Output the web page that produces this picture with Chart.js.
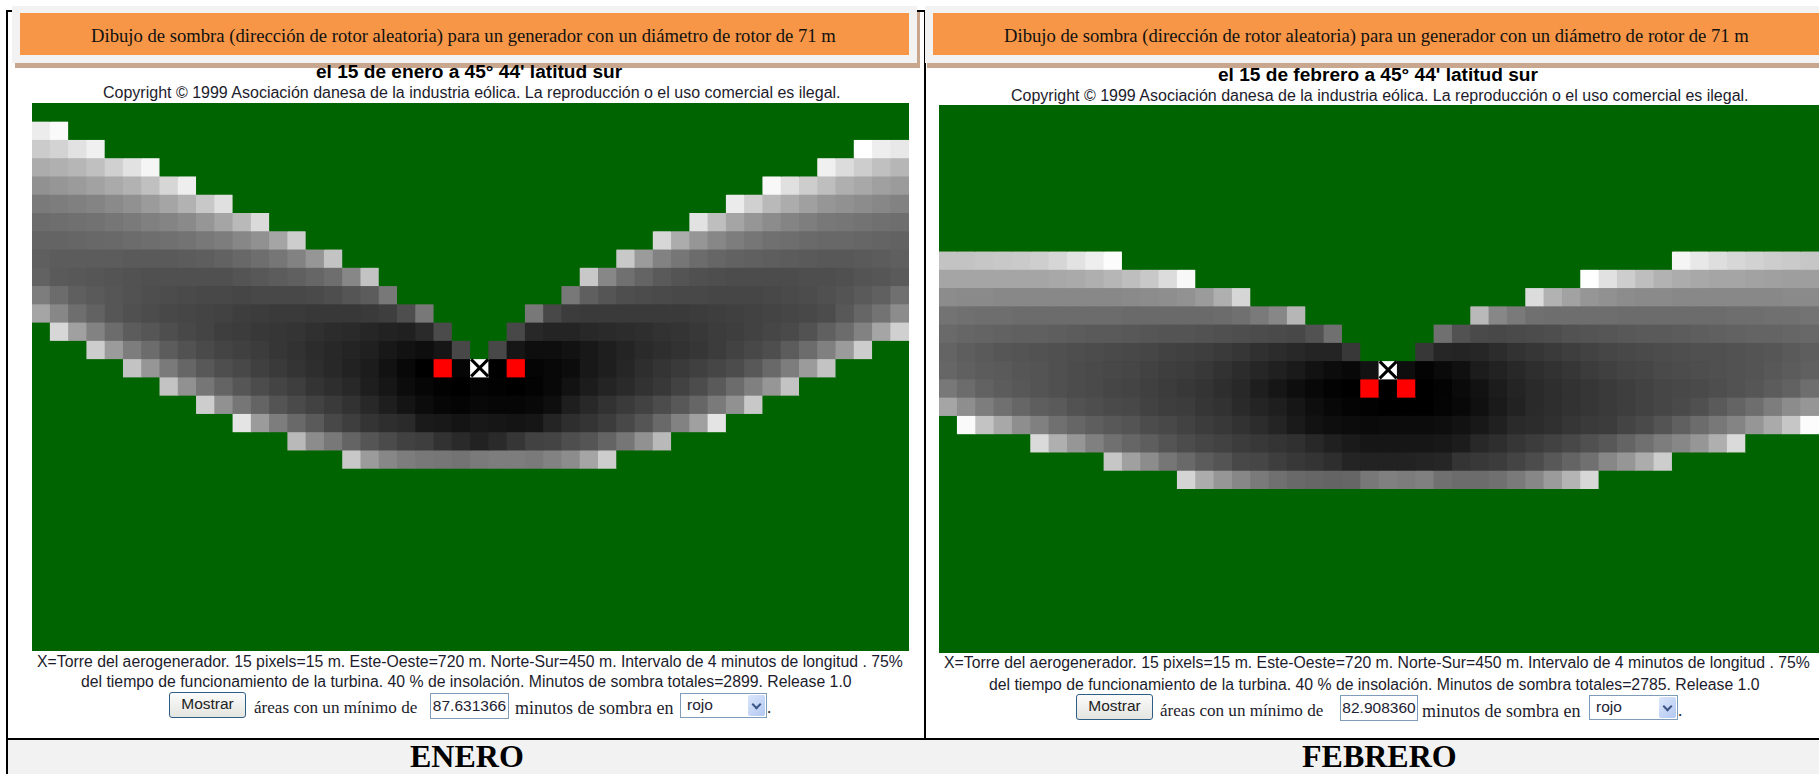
<!DOCTYPE html>
<html>
<head>
<meta charset="utf-8">
<script src="https://cdn.jsdelivr.net/npm/chart.js@4"></script>
<style>
  html, body { margin: 0; background: #fff; overflow: hidden; width: 1819px; height: 774px; }
  .box, .t, canvas { position: absolute; }
  .t { white-space: nowrap; transform: translateY(-50%); color: #1c1c2c; }
  .serif { font-family: "Liberation Serif", serif; }
  .sans { font-family: "Liberation Sans", sans-serif; }
  .title { font-size: 18.65px; color: #111; }
  .sub { font-size: 19.1px; font-weight: bold; color: #000; }
  .note { font-size: 15.8px; }
  .copy { font-size: 16px; }
  .line { font-size: 17.1px; }
  .line2 { font-size: 18px; }
  .month { font-size: 32px; font-weight: bold; color: #000; }
  .btn { border: 1px solid #2e5d86; border-radius: 3px; background: linear-gradient(#fbfbfb, #e4e4e0); font: 15.5px "Liberation Sans", sans-serif; color: #222; text-align: center; box-sizing: border-box; line-height: 21px; }
  .inp { border: 1px solid #7f9db9; background: #fff; font: 15.5px "Liberation Sans", sans-serif; color: #223; text-align: center; box-sizing: border-box; line-height: 24px; }
  .sel { border: 1px solid #7f9db9; background: #fff; font: 15.5px "Liberation Sans", sans-serif; color: #223; padding-left: 6px; box-sizing: border-box; line-height: 22px; }
  .arr { position: absolute; right: 1px; top: 1px; bottom: 1px; width: 17px; border-radius: 2px; background: linear-gradient(135deg, #dbe6fa, #b2c8f2); }
  .arr::after { content: ""; position: absolute; left: 5px; top: 6px; width: 5px; height: 5px; border-right: 2px solid #3c5587; border-bottom: 2px solid #3c5587; transform: rotate(45deg); }
</style>
</head>
<body>
<!-- table frame -->
<div class="box" style="left:6px;top:10px;width:2px;height:764px;background:#000"></div>
<div class="box" style="left:6px;top:10px;width:8px;height:2px;background:#000"></div>
<div class="box" style="left:924px;top:10px;width:2px;height:764px;background:#000"></div>
<div class="box" style="left:915px;top:10px;width:10px;height:2px;background:#000"></div>
<div class="box" style="left:8px;top:740px;width:1811px;height:34px;background:#f2f2f2"></div>
<div class="box" style="left:6px;top:738px;width:1813px;height:2px;background:#000"></div>

<!-- headers -->
<div class="box" style="left:15px;top:12px;width:905px;height:56px;background:#c9a78f"></div>
<div class="box" style="left:927px;top:63px;width:892px;height:5px;background:#c9a78f"></div>
<div class="box" style="left:12px;top:6px;width:905px;height:57px;background:#f2f2f2"></div>
<div class="box" style="left:925px;top:6px;width:894px;height:57px;background:#f2f2f2"></div>
<div class="box" style="left:20px;top:13px;width:889px;height:42px;background:#f79646"></div>
<div class="box" style="left:933px;top:13px;width:886px;height:42px;background:#f79646"></div>
<div class="t serif title" style="left:91px;top:36px">Dibujo de sombra (dirección de rotor aleatoria) para un generador con un diámetro de rotor de 71 m</div>
<div class="t serif title" style="left:1004px;top:36px">Dibujo de sombra (dirección de rotor aleatoria) para un generador con un diámetro de rotor de 71 m</div>

<div class="t sans sub" style="left:316px;top:72px">el 15 de enero a 45° 44' latitud sur</div>
<div class="t sans sub" style="left:1218px;top:75px">el 15 de febrero a 45° 44' latitud sur</div>
<div class="t sans copy" style="left:103px;top:93px">Copyright © 1999 Asociación danesa de la industria eólica. La reproducción o el uso comercial es ilegal.</div>
<div class="t sans copy" style="left:1011px;top:96px">Copyright © 1999 Asociación danesa de la industria eólica. La reproducción o el uso comercial es ilegal.</div>

<canvas id="enero" style="left:32px;top:103px" width="877" height="548"></canvas>
<canvas id="febrero" style="left:939px;top:105px" width="880" height="548"></canvas>

<!-- enero footer -->
<div class="t sans note" style="left:37px;top:662px">X=Torre del aerogenerador. 15 pixels=15 m. Este-Oeste=720 m. Norte-Sur=450 m. Intervalo de 4 minutos de longitud . 75%</div>
<div class="t sans note" style="left:81px;top:682px">del tiempo de funcionamiento de la turbina. 40 % de insolación. Minutos de sombra totales=2899. Release 1.0</div>
<div class="box btn" style="left:169px;top:692px;width:77px;height:26px">Mostrar</div>
<div class="t serif line" style="left:254px;top:708px">áreas con un mínimo de</div>
<div class="box inp" style="left:430px;top:693px;width:79px;height:26px">87.631366</div>
<div class="t serif line2" style="left:515px;top:708px">minutos de sombra en</div>
<div class="box sel" style="left:680px;top:693px;width:87px;height:25px">rojo<div class="arr"></div></div>
<div class="t serif line" style="left:767px;top:708px">.</div>

<!-- febrero footer -->
<div class="t sans note" style="left:944px;top:663px">X=Torre del aerogenerador. 15 pixels=15 m. Este-Oeste=720 m. Norte-Sur=450 m. Intervalo de 4 minutos de longitud . 75%</div>
<div class="t sans note" style="left:989px;top:685px">del tiempo de funcionamiento de la turbina. 40 % de insolación. Minutos de sombra totales=2785. Release 1.0</div>
<div class="box btn" style="left:1076px;top:694px;width:77px;height:26px">Mostrar</div>
<div class="t serif line" style="left:1160px;top:711px">áreas con un mínimo de</div>
<div class="box inp" style="left:1340px;top:695px;width:78px;height:26px">82.908360</div>
<div class="t serif line2" style="left:1422px;top:711px">minutos de sombra en</div>
<div class="box sel" style="left:1589px;top:695px;width:89px;height:25px">rojo<div class="arr"></div></div>
<div class="t serif line" style="left:1678px;top:711px">.</div>

<div class="t serif month" style="left:410px;top:756px">ENERO</div>
<div class="t serif month" style="left:1302px;top:756px">FEBRERO</div>

<script>
// gray level per cell, _ = no shadow, R = red area, T = tower. Rows top to bottom,
// cells missing at the end of a row have no shadow
const _ = null, R = -1, T = -2;

const columns = ["c0","c1","c2","c3","c4","c5","c6","c7","c8","c9","c10","c11","c12","c13","c14","c15","c16","c17","c18","c19","c20","c21","c22","c23","c24","c25","c26","c27","c28","c29","c30","c31","c32","c33","c34","c35","c36","c37","c38","c39","c40","c41","c42","c43","c44","c45","c46","c47"];

const eneroRows = [
  [],
  [236,250],
  [203,211,226,240,_,_,_,_,_,_,_,_,_,_,_,_,_,_,_,_,_,_,_,_,_,_,_,_,_,_,_,_,_,_,_,_,_,_,_,_,_,_,_,_,_,255,238,232],
  [172,176,182,192,208,226,245,_,_,_,_,_,_,_,_,_,_,_,_,_,_,_,_,_,_,_,_,_,_,_,_,_,_,_,_,_,_,_,_,_,_,_,_,240,220,205,192,182],
  [145,150,155,162,170,178,192,214,238,_,_,_,_,_,_,_,_,_,_,_,_,_,_,_,_,_,_,_,_,_,_,_,_,_,_,_,_,_,_,_,248,224,205,190,175,168,160,155],
  [122,125,128,132,138,145,155,165,178,200,224,_,_,_,_,_,_,_,_,_,_,_,_,_,_,_,_,_,_,_,_,_,_,_,_,_,_,_,235,208,185,172,160,150,145,140,135,130],
  [108,110,112,114,118,122,128,132,138,150,165,185,218,_,_,_,_,_,_,_,_,_,_,_,_,_,_,_,_,_,_,_,_,_,_,_,226,190,165,150,140,132,126,120,118,115,112,110],
  [100,100,102,104,105,108,110,112,115,120,125,135,145,165,205,_,_,_,_,_,_,_,_,_,_,_,_,_,_,_,_,_,_,_,215,172,150,135,125,118,112,110,106,104,104,102,100,98],
  [95,92,92,92,92,90,90,90,92,94,98,104,110,118,130,150,195,_,_,_,_,_,_,_,_,_,_,_,_,_,_,_,200,155,130,118,108,102,98,96,94,92,90,88,88,90,92,95],
  [98,90,88,86,84,82,80,80,80,80,80,84,88,92,96,102,110,135,195,_,_,_,_,_,_,_,_,_,_,_,200,135,112,100,90,84,80,78,76,76,76,76,78,78,80,84,86,90],
  [125,108,95,90,86,82,78,76,74,72,72,70,72,72,72,74,78,85,92,120,_,_,_,_,_,_,_,_,_,120,95,85,78,76,74,72,72,70,70,70,72,74,76,80,84,90,96,112],
  [165,135,110,98,86,80,76,72,70,68,66,62,60,58,58,56,56,56,58,62,78,120,_,_,_,_,_,120,72,60,58,58,58,58,58,58,60,62,64,66,68,70,72,76,88,102,115,140],
  [_,215,160,130,108,92,86,78,72,68,62,60,56,54,52,48,44,42,38,34,32,42,75,_,_,_,72,40,36,36,40,42,44,46,50,52,56,60,62,66,70,74,82,96,108,130,165,208],
  [_,_,_,205,155,125,108,92,82,74,68,64,60,54,50,44,40,36,32,24,18,14,22,72,_,72,22,14,14,18,24,30,36,42,46,50,54,60,66,72,78,92,108,128,155,205],
  [_,_,_,_,_,195,150,122,102,88,78,72,64,58,52,46,40,34,28,18,8,0,R,5,T,0,R,5,8,12,24,30,38,46,52,58,64,70,76,88,105,125,155,195],
  [_,_,_,_,_,_,_,195,145,118,100,86,76,68,62,52,46,40,30,22,12,6,2,0,4,2,0,3,8,18,28,36,42,50,56,66,76,90,108,128,150,195],
  [_,_,_,_,_,_,_,_,_,205,145,118,100,84,74,66,58,50,40,30,20,12,6,4,8,6,6,8,14,30,40,50,58,66,76,88,102,122,145,200],
  [_,_,_,_,_,_,_,_,_,_,_,228,155,125,105,90,72,62,52,46,42,26,24,20,24,22,20,22,36,46,52,60,72,85,105,130,160,228],
  [_,_,_,_,_,_,_,_,_,_,_,_,_,_,185,140,120,100,85,75,65,62,50,42,34,42,54,66,68,78,85,100,118,145,185],
  [_,_,_,_,_,_,_,_,_,_,_,_,_,_,_,_,_,200,155,135,125,120,118,115,122,125,125,122,130,140,165,205],
  [],[],[],[],[],[],[],[],[],[]
];

const febreroRows = [
  [],[],[],[],[],[],[],[],
  [195,195,198,200,202,206,214,226,238,252,_,_,_,_,_,_,_,_,_,_,_,_,_,_,_,_,_,_,_,_,_,_,_,_,_,_,_,_,_,_,245,232,222,215,210,205,202,198],
  [165,165,165,165,165,165,168,170,175,182,190,200,220,248,_,_,_,_,_,_,_,_,_,_,_,_,_,_,_,_,_,_,_,_,_,255,225,205,190,178,172,168,165,165,162,160,158,158],
  [140,138,138,136,136,136,136,136,136,136,138,140,142,146,155,175,214,_,_,_,_,_,_,_,_,_,_,_,_,_,_,_,220,178,162,150,145,140,138,138,136,136,136,136,136,136,138,138],
  [115,112,110,110,108,108,108,108,108,108,106,106,106,106,106,108,112,122,135,182,_,_,_,_,_,_,_,_,_,185,135,122,112,110,110,110,110,108,108,108,108,108,108,110,110,112,112,115],
  [106,102,100,98,96,96,94,92,90,90,88,86,84,84,82,80,78,76,74,72,82,112,_,_,_,_,_,112,82,74,72,74,76,78,82,84,86,88,90,90,92,94,96,98,100,100,102,104],
  [100,94,90,86,84,82,80,78,76,74,72,70,66,64,62,58,54,48,44,40,36,36,56,_,_,_,55,38,36,38,44,50,54,58,62,66,70,72,74,76,78,80,80,82,84,86,90,94],
  [102,96,92,90,86,84,80,76,74,72,70,66,62,60,56,50,44,38,32,26,18,12,8,18,T,14,4,10,16,28,34,40,46,50,54,60,64,68,70,74,76,78,80,82,84,88,92,96],
  [120,108,98,92,88,84,80,76,74,70,68,64,60,56,52,46,40,30,22,14,8,3,0,R,0,R,0,3,10,18,28,36,42,46,50,54,58,62,66,70,72,74,78,82,86,92,98,110],
  [165,142,125,112,102,94,90,82,78,74,72,66,62,60,54,50,42,36,30,22,14,8,4,2,0,0,0,4,8,16,26,34,42,46,50,54,58,62,66,70,74,80,90,100,110,125,140,150],
  [_,250,195,168,142,128,112,102,94,88,84,76,72,66,60,56,50,44,36,26,18,14,12,10,12,12,12,14,18,24,32,42,44,48,54,58,60,68,74,84,96,108,120,132,150,170,198,252],
  [_,_,_,_,_,218,175,150,128,112,102,94,84,76,70,66,60,56,52,48,40,32,26,22,22,22,22,24,28,40,46,54,60,66,72,80,88,100,112,125,135,150,175,218],
  [_,_,_,_,_,_,_,_,_,198,160,140,118,105,92,84,72,70,62,56,52,46,36,34,34,34,36,38,52,56,60,68,76,88,100,112,135,150,172,205],
  [_,_,_,_,_,_,_,_,_,_,_,_,_,212,172,150,135,122,112,105,102,100,102,120,128,124,128,112,108,108,112,122,135,155,180,215],
  [],[],[],[],[],[],[],[],[]
];

const shadowGreen = "#006400";

function cellColor(v) {
  if (v == null) return shadowGreen;
  if (v === R) return "#ff0000";
  if (v === T) return "#ffffff";
  return `rgb(${v},${v},${v})`;
}

function drawMonth(id, rows) {
  const datasets = rows.map((row) => ({
    type: "bar",
    order: 1,
    data: columns.map(() => 1),
    backgroundColor: columns.map((c, i) => cellColor(row[i])),
    barPercentage: 1,
    categoryPercentage: 1,
    inflateAmount: 0.4,
  }));
  // tower marker, sits in the middle of its cell
  const towerRow = rows.findIndex((row) => row.includes(T));
  const towerCol = rows[towerRow].indexOf(T);
  datasets.push({
    type: "line",
    order: 0,
    data: columns.map((c, i) => (i === towerCol ? towerRow + 0.5 : null)),
    showLine: false,
    pointStyle: "crossRot",
    pointRadius: 12,
    pointBorderColor: "#000",
    pointBorderWidth: 3,
  });
  new Chart(document.getElementById(id), {
    type: "bar",
    data: { labels: columns, datasets },
    options: {
      responsive: false,
      animation: false,
      layout: { padding: 0, autoPadding: false },
      plugins: { legend: { display: false }, tooltip: { enabled: false } },
      scales: {
        x: { display: false, stacked: true },
        y: { display: false, stacked: true, reverse: true, min: 0, max: 30 },
      },
    },
  });
}

drawMonth("enero", eneroRows);
drawMonth("febrero", febreroRows);
</script>
</body>
</html>
